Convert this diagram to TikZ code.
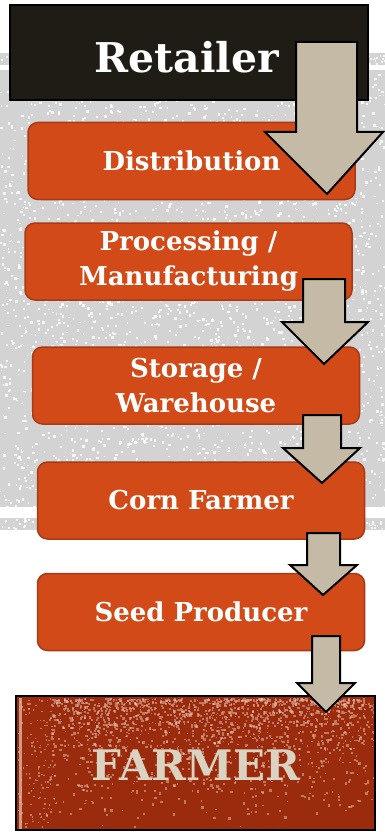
\documentclass[tikz,border=0pt]{standalone}
\usepackage{fontspec}
\newfontfamily\slab{DejaVu Serif}
\definecolor{bggray}{HTML}{D3D3D3}
\definecolor{boxorange}{HTML}{D24A18}
\definecolor{boxedge}{HTML}{A63A16}
\definecolor{retblack}{HTML}{1F1C15}
\definecolor{arrowfill}{HTML}{C5BAA5}
\definecolor{farmred}{HTML}{9B2B0D}
\definecolor{farmtext}{HTML}{DAD3C2}
\definecolor{speck}{HTML}{E9C7B7}
\begin{document}
\begin{tikzpicture}[x=1pt,y=-1pt,
  obox/.style={draw=boxedge, line width=1.5pt, fill=boxorange, rounded corners=10pt,
    text=white, font=\slab\bfseries\fontsize{26}{35}\selectfont, align=center,
    minimum width=327pt, minimum height=77pt, inner sep=0pt},
  barrow/.style={draw=black, line width=2pt, fill=arrowfill, line join=miter}]
\useasboundingbox (0,0) rectangle (385,832);
\fill[white] (0,0) rectangle (385,832);
% gray textured background
\fill[bggray] (0,53) rectangle (385,65);
\fill[bggray] (0,70) rectangle (385,507);
\fill[bggray] (0,518) rectangle (385,530);
\pgfmathsetseed{7}
\foreach \i in {1,...,3200}{
  \pgfmathsetmacro\rx{rnd*385}
  \pgfmathsetmacro\ry{70+rnd*437}
  \pgfmathsetmacro\rs{1.2+rnd*1.6}
  \fill[white,opacity=0.8] (\rx,\ry) rectangle ++(\rs,\rs);
}
\foreach \i in {1,...,250}{
  \pgfmathsetmacro\rx{rnd*385}
  \pgfmathsetmacro\ry{53+rnd*11}
  \fill[white,opacity=0.8] (\rx,\ry) rectangle ++(1.8,1.8);
}
\foreach \i in {1,...,250}{
  \pgfmathsetmacro\rx{rnd*385}
  \pgfmathsetmacro\ry{518+rnd*11}
  \fill[white,opacity=0.8] (\rx,\ry) rectangle ++(1.8,1.8);
}
% Retailer
\node[draw=black, line width=2pt, fill=retblack, minimum width=358pt, minimum height=95pt, inner sep=0pt] (ret) at (188.5,52.5) {};
\node[text=white, font=\slab\bfseries\fontsize{41}{48}\selectfont, inner sep=0pt] (rett) at (187,57) {Retailer};
% process boxes
\node[obox] (dist) at (191.5,161) {Distribution};
\node[obox] (proc) at (188.5,261.5) {Processing /\\Manufacturing};
\node[obox] (stor) at (196,385.5) {Storage /\\Warehouse};
\node[obox] (corn) at (201,500.5) {Corn Farmer};
\node[obox] (seed) at (201,612) {Seed Producer};
% FARMER box
\node[fill=farmred, minimum width=359pt, minimum height=134pt, inner sep=0pt] (farm) at (195.5,763) {};
\begin{scope}
\clip (16,696) rectangle (375,830);
\foreach \i in {1,...,1700}{
  \pgfmathsetmacro\rx{50+rnd*325}
  \pgfmathsetmacro\ry{698+(rnd*rnd)*132}
  \pgfmathsetmacro\rs{1.2+rnd*1.5}
  \fill[speck,opacity=0.5] (\rx,\ry) rectangle ++(\rs,\rs);
}
\foreach \i in {1,...,150}{
  \pgfmathsetmacro\rx{16+rnd*40}
  \pgfmathsetmacro\ry{698+rnd*132}
  \fill[speck,opacity=0.5] (\rx,\ry) rectangle ++(1.5,1.5);
}
\fill[speck,opacity=0.7] (19,698) rectangle (22,830);
\end{scope}
\draw[black, line width=2pt] (farm.north west) rectangle (farm.south east);
\node[text=farmtext, font=\slab\bfseries\fontsize{42}{48}\selectfont, inner sep=0pt] (farmt) at (196,765) {FARMER};
% block arrows
\draw[barrow] (296,42) -- (357,42) -- (357,132) -- (383,132) -- (327,194) -- (265,132) -- (296,132) -- cycle;
\draw[barrow] (303,279) -- (345,279) -- (345,322) -- (368,322) -- (324,364) -- (282,322) -- (303,322) -- cycle;
\draw[barrow] (303,415) -- (341,415) -- (341,448) -- (360,448) -- (322,483) -- (283,448) -- (303,448) -- cycle;
\draw[barrow] (307,533) -- (340,533) -- (340,565) -- (357,565) -- (323,595) -- (290,565) -- (307,565) -- cycle;
\draw[barrow] (312,636) -- (340,636) -- (340,683) -- (355,683) -- (326,712) -- (297,683) -- (312,683) -- cycle;
\end{tikzpicture}
\end{document}
